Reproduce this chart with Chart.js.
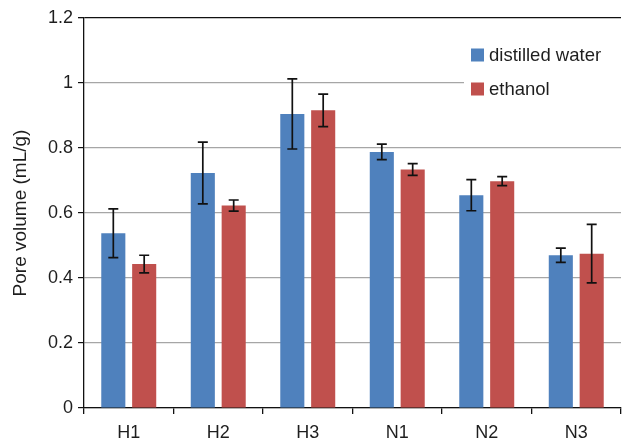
<!DOCTYPE html>
<html>
<head>
<meta charset="utf-8">
<script src="https://cdn.jsdelivr.net/npm/chart.js@4"></script>
<style>
  html, body { margin: 0; padding: 0; background: #fff; }
  #wrap { width: 623px; height: 444px; }
</style>
</head>
<body>
<div id="wrap"><canvas id="poreChart"></canvas></div>
<script>
let samples = ['H1', 'H2', 'H3', 'N1', 'N2', 'N3'];
let waterVol = [0.538, 0.723, 0.905, 0.788, 0.655, 0.470];
let waterErr = [0.075, 0.095, 0.108, 0.024, 0.048, 0.022];
let ethanolVol = [0.443, 0.623, 0.916, 0.734, 0.698, 0.475];
let ethanolErr = [0.027, 0.017, 0.050, 0.018, 0.014, 0.090];

let fontFam = '"Liberation Sans", Arial, Helvetica, sans-serif';

// error bars drawn from the y scale
let errorBars = {
    id: 'errorBars',
    afterDatasetsDraw(chart) {
        let ctx = chart.ctx;
        let yScale = chart.scales.y;
        ctx.save();
        ctx.strokeStyle = '#111';
        ctx.lineWidth = 1.7;
        chart.data.datasets.forEach(function(ds, i) {
            let meta = chart.getDatasetMeta(i);
            meta.data.forEach(function(bar, j) {
                let v = ds.data[j];
                let e = ds.errors[j];
                let top = yScale.getPixelForValue(v + e);
                let bot = yScale.getPixelForValue(v - e);
                let x = bar.x;
                ctx.beginPath();
                ctx.moveTo(x, top); ctx.lineTo(x, bot);
                ctx.moveTo(x - 5, top); ctx.lineTo(x + 5, top);
                ctx.moveTo(x - 5, bot); ctx.lineTo(x + 5, bot);
                ctx.stroke();
            });
        });
        ctx.restore();
    }
};

// legend box inside the plot, top right
let innerLegend = {
    id: 'innerLegend',
    afterDraw(chart) {
        let ctx = chart.ctx;
        ctx.save();
        ctx.fillStyle = '#fff';
        ctx.fillRect(464, 40, 160, 62);
        ctx.font = '18.5px ' + fontFam;
        ctx.textBaseline = 'middle';
        chart.data.datasets.forEach(function(ds, i) {
            let y = 55 + i * 34;
            ctx.fillStyle = ds.backgroundColor;
            ctx.fillRect(471, y - 6.5, 13, 13);
            ctx.fillStyle = '#1e1e1e';
            ctx.fillText(ds.label, 489, y + 1);
        });
        ctx.restore();
    }
};

new Chart(document.getElementById('poreChart'), {
    type: 'bar',
    data: {
        labels: samples,
        datasets: [{
            label: 'distilled water',
            data: waterVol,
            errors: waterErr,
            backgroundColor: '#4F81BD'
        }, {
            label: 'ethanol',
            data: ethanolVol,
            errors: ethanolErr,
            backgroundColor: '#C0504D'
        }]
    },
    options: {
        responsive: true,
        maintainAspectRatio: false,
        animation: false,
        categoryPercentage: 0.69,
        barPercentage: 0.78,
        layout: { padding: { top: 18, right: 2, left: 0, bottom: 0 } },
        plugins: {
            legend: { display: false },
            tooltip: { enabled: false }
        },
        scales: {
            x: {
                offset: true,
                grid: {
                    display: true,
                    offset: true,
                    drawOnChartArea: false,
                    drawTicks: true,
                    tickLength: 6,
                    color: '#111',
                    lineWidth: 1.3
                },
                border: { display: true, color: '#111', width: 1.3 },
                ticks: {
                    color: '#1e1e1e',
                    font: { family: fontFam, size: 18 },
                    padding: 8
                },
                afterFit(s) { s.height = 36; }
            },
            y: {
                min: 0,
                max: 1.2,
                ticks: {
                    stepSize: 0.2,
                    color: '#1e1e1e',
                    font: { family: fontFam, size: 18 },
                    padding: 5,
                    callback: function(v) { return Math.round(v * 10) / 10; }
                },
                grid: {
                    color: function(c) { return c.tick && c.tick.value >= 1.2 ? '#111' : '#a6a6a6'; },
                    lineWidth: function(c) { return c.tick && c.tick.value >= 1.2 ? 1.3 : 1.2; },
                    tickColor: '#111',
                    tickLength: 6
                },
                border: { display: true, color: '#111', width: 1.3 },
                title: {
                    display: true,
                    text: 'Pore volume (mL/g)',
                    color: '#1e1e1e',
                    font: { family: fontFam, size: 19 },
                    padding: { top: 9, bottom: 6 }
                },
                afterFit(s) { s.width = 84; }
            }
        }
    },
    plugins: [errorBars, innerLegend]
});
</script>
</body>
</html>
